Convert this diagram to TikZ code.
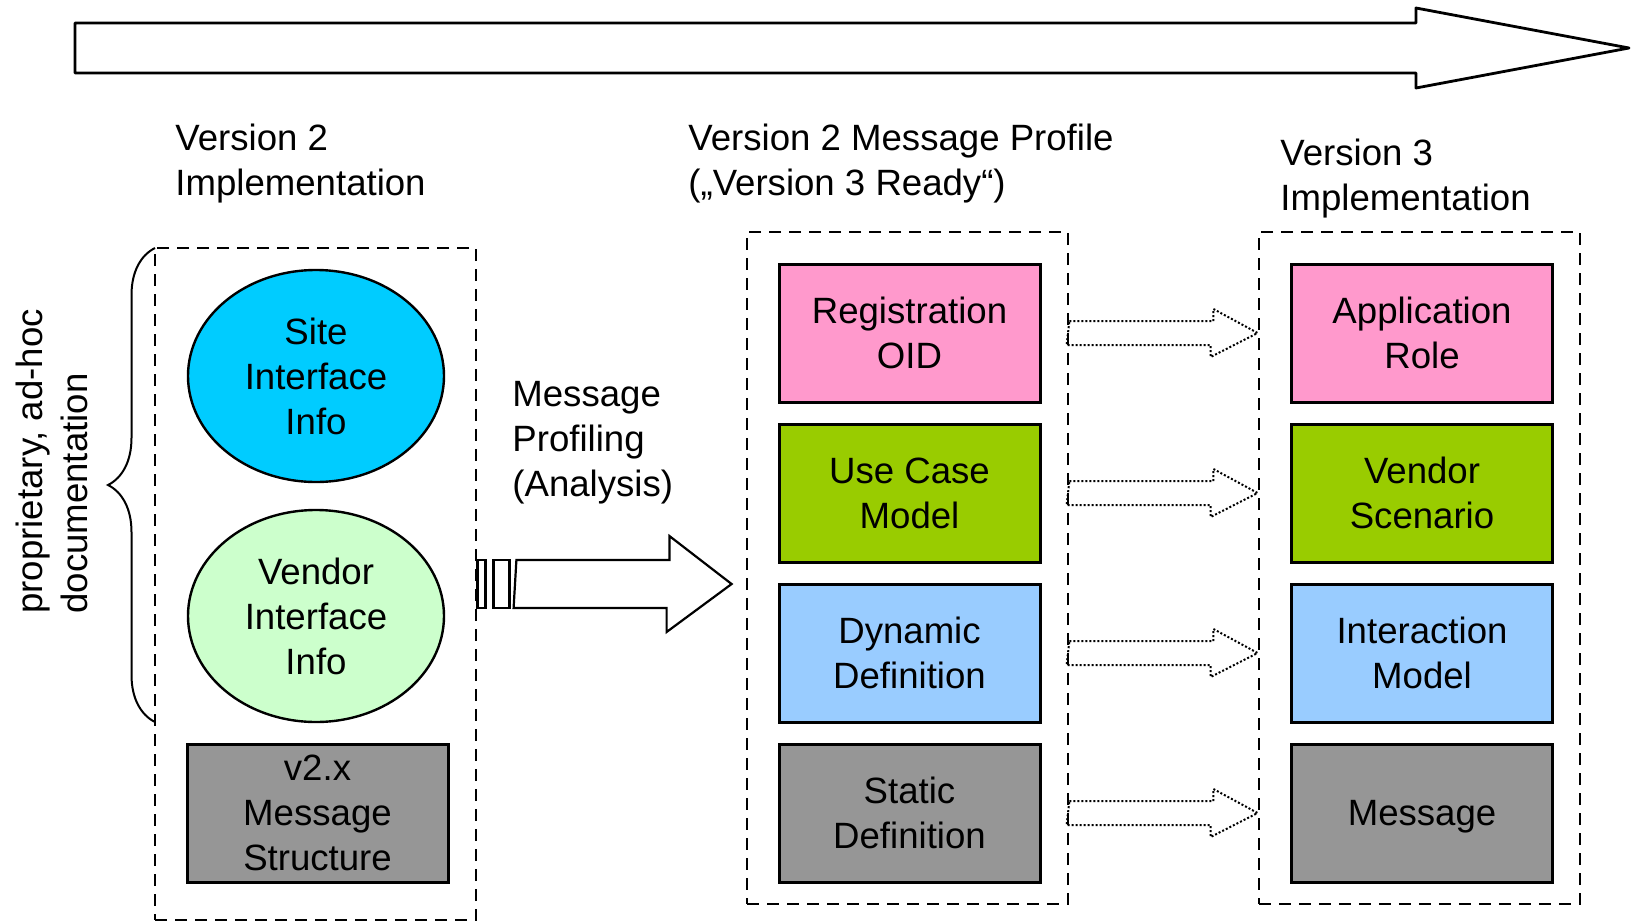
\documentclass[tikz,border=0pt]{standalone}
\usepackage{fontspec}
\setmainfont{Liberation Sans}
\usetikzlibrary{shapes.geometric,calc,decorations.pathreplacing}

\definecolor{siteblue}{HTML}{00CCFF}
\definecolor{vendorgreen}{HTML}{CCFFCC}
\definecolor{boxgray}{HTML}{969696}
\definecolor{rolepink}{HTML}{FF99CC}
\definecolor{caselime}{HTML}{99CC00}
\definecolor{dynblue}{HTML}{99CCFF}

\tikzset{
  every node/.style={font=\fontsize{18.3}{22.5}\selectfont, text=black},
  frame/.style={draw, dash pattern=on 6pt off 4pt, line width=1.4pt,
    minimum width=160.5pt, minimum height=336pt, inner sep=0pt},
  itembox/.style={draw, line width=1.5pt, rectangle, align=center,
    minimum width=130.5pt, minimum height=69pt, inner sep=0pt},
  itemell/.style={draw, line width=1.2pt, ellipse, align=center,
    minimum width=128pt, minimum height=106pt, inner sep=0pt},
  heading/.style={align=left, anchor=north west, inner sep=0pt},
  hollow/.style={draw, line width=1.1pt, fill=white},
  dotflow/.style={draw, line width=1pt, dash pattern=on 1pt off 1pt},
}

\begin{document}
\begin{tikzpicture}[x=0.5pt, y=-0.5pt]
\useasboundingbox (0,0) rectangle (1632,921);

% time line arrow across the top
\draw[line width=1.4pt, line join=round]
  (75,23) -- (1416,23) -- (1416,8) -- (1629,48) -- (1416,88) -- (1416,73) -- (75,73) -- cycle;

% column frames
\node[frame] (leftbox)  at (315.5,584) {};
\node[frame] (midbox)   at (907.5,568) {};
\node[frame] (rightbox) at (1419.5,568) {};

% column headings
\node[heading] (h1) at (175,124) {Version 2\\Implementation};
\node[heading] (h2) at (688,124) {Version 2 Message Profile\\(„Version 3 Ready“)};
\node[heading] (h3) at (1280,139) {Version 3\\Implementation};

% version 2 implementation
\node[itemell, fill=siteblue]   (site)   at (316,376) {Site\\Interface\\Info};
\node[itemell, fill=vendorgreen](vendor) at (316,616) {Vendor\\Interface\\Info};
\node[itembox, fill=boxgray]    (v2x)    at (317.5,813) {v2.x\\Message\\Structure};

% brace and side note
\draw[line width=1pt, decorate, decoration={brace, amplitude=23.5pt}]
  (155,722) -- (155,248);
\node[rotate=90, anchor=west, align=left, inner sep=0pt] (doc) at (52,614)
  {proprietary, ad-hoc\\documentation};

% message profile
\node[itembox, fill=rolepink] (m1) at (909.5,333) {Registration\\OID};
\node[itembox, fill=caselime] (m2) at (909.5,493) {Use Case\\Model};
\node[itembox, fill=dynblue]  (m3) at (909.5,653) {Dynamic\\Definition};
\node[itembox, fill=boxgray]  (m4) at (909.5,813) {Static\\Definition};

% version 3 implementation
\node[itembox, fill=rolepink] (r1) at (1422,333) {Application\\Role};
\node[itembox, fill=caselime] (r2) at (1422,493) {Vendor\\Scenario};
\node[itembox, fill=dynblue]  (r3) at (1422,653) {Interaction\\Model};
\node[itembox, fill=boxgray, text depth=0pt] (r4) at (1422,813) {Message};

% profiling step
\node[heading] (prof) at (512,381) {Message\\Profiling\\(Analysis)};
\draw[hollow] (leftbox.east) ++(0,-24) rectangle ++(8,48);
\draw[hollow] (leftbox.east) ++(16,-24) rectangle ++(16,48);
\draw[hollow, line join=miter] (leftbox.east) ++(39,-24) -- ++(153,0) -- ++(0,-24)
  -- ($(midbox.west |- leftbox.east)+(-14,0)$) -- ++(-65,48) -- ++(0,-24) -- ++(-153,0) -- cycle;

% mapping arrows between the profile and version 3
\foreach \i in {1,...,4}{
  \draw[dotflow] (midbox.east |- m\i) ++(0,-12) -- ++(144,0) -- ++(0,-12)
    -- (rightbox.west |- r\i) -- ++(-47,24) -- ++(0,-12) -- ++(-144,0) -- cycle;
}
\end{tikzpicture}
\end{document}
